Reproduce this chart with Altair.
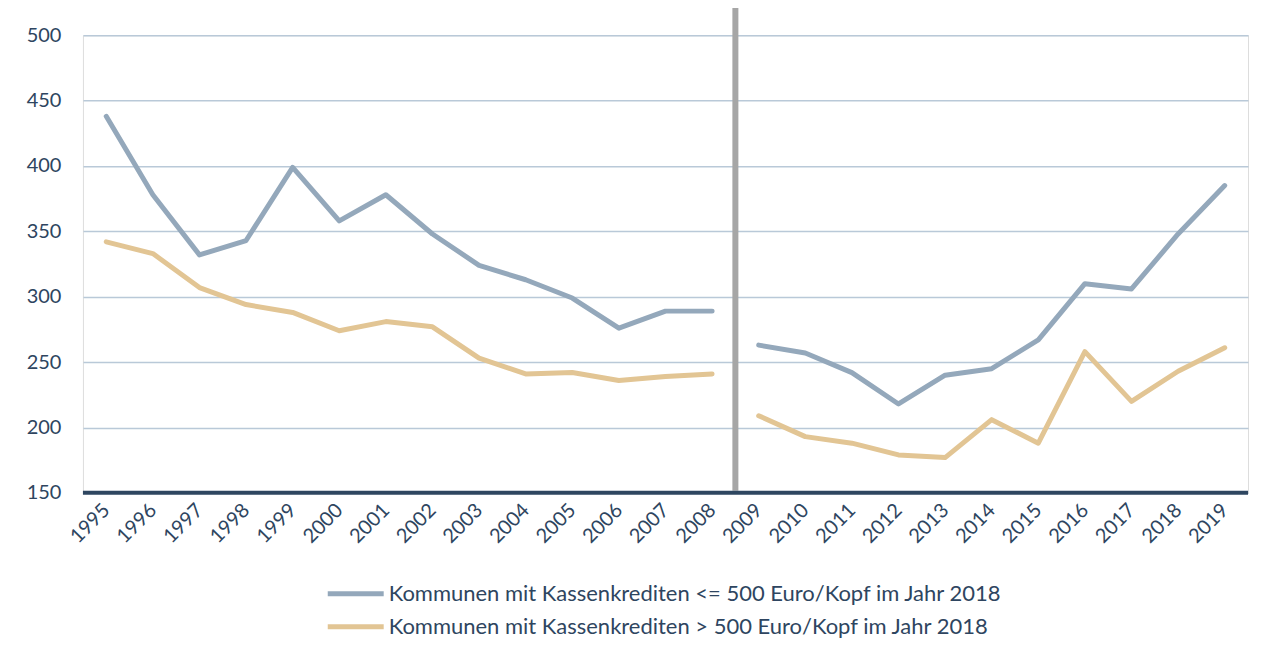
import altair as alt
import pandas as pd

years = list(range(1995, 2020))
low_debt = [438, 378, 332, 343, 399, 358, 378, 348, 324, 313, 299, 276, 289, 289,
            263, 257, 242, 218, 240, 245, 267, 310, 306, 348, 385]
high_debt = [342, 333, 307, 294, 288, 274, 281, 277, 253, 241, 242, 236, 239, 241,
             209, 193, 188, 179, 177, 206, 188, 258, 220, 243, 261]
series_names = ["Kommunen mit Kassenkrediten <= 500 Euro/Kopf im Jahr 2018",
                "Kommunen mit Kassenkrediten > 500 Euro/Kopf im Jahr 2018"]
series_colors = ["#94a8bb", "#e2c594"]
y_ticks = [150, 200, 250, 300, 350, 400, 450, 500]
break_year = 2008.5

rows = []
for name, vals in zip(series_names, [low_debt, high_debt]):
    for yr, v in zip(years, vals):
        rows.append({"Jahr": yr, "Wert": v, "Reihe": name,
                     "Abschnitt": "a" if yr <= 2008 else "b"})
df = pd.DataFrame(rows)

FONT = "Lato"
TXT = "#2e4560"

xscale = alt.Scale(domain=[1994.5, 2019.5], nice=False, zero=False)
yscale = alt.Scale(domain=[150, 500], nice=False, zero=False)

lines = alt.Chart(df).mark_line(strokeWidth=5, strokeCap="round", strokeJoin="round").encode(
    x=alt.X("Jahr:Q", scale=xscale,
            axis=alt.Axis(values=years, format="d", labelAngle=315, labelAlign="right",
                          labelBaseline="middle", labelPadding=14, ticks=False, domain=False,
                          grid=False, title=None, labelFontSize=20, labelColor=TXT,
                          labelFont=FONT, labelOverlap=False)),
    y=alt.Y("Wert:Q", scale=yscale,
            axis=alt.Axis(values=y_ticks, ticks=False, domain=False, title=None,
                          gridColor="#b9c9d8", gridWidth=1.5, labelPadding=22,
                          labelFontSize=20, labelColor=TXT, labelFont=FONT)),
    color=alt.Color("Reihe:N", scale=alt.Scale(domain=series_names, range=series_colors),
                    legend=alt.Legend(title=None, orient="none", legendX=253, legendY=539,
                                      symbolType="M-1.6,0H1.6", symbolSize=1225,
                                      symbolStrokeWidth=5, labelFontSize=22,
                                      labelFont=FONT, labelColor=TXT, rowPadding=2,
                                      labelOffset=13, labelLimit=900)),
    detail="Abschnitt:N",
)

base_df = pd.DataFrame({"y": [150]})
baseline = alt.Chart(base_df).mark_rule(color="#2e4660", strokeWidth=4).encode(
    y=alt.Y("y:Q", scale=yscale)
)

sep_df = pd.DataFrame({"x": [break_year]})
separator = alt.Chart(sep_df).mark_rule(color="#a6a6a6", strokeWidth=6).encode(
    x=alt.X("x:Q", scale=xscale), y=alt.value(-29), y2=alt.value(456)
)

border_top = alt.Chart(sep_df).mark_rule(color="#d9d9d9", strokeWidth=2).encode(
    x=alt.value(-76), x2=alt.value(1200), y=alt.value(-29)
)
border_left = alt.Chart(sep_df).mark_rule(color="#d9d9d9", strokeWidth=2).encode(
    x=alt.value(-76), y=alt.value(-29), y2=alt.value(700)
)

chart = alt.layer(border_top, border_left, lines, separator, baseline).properties(
    width=1166, height=458,
    autosize=alt.AutoSizeParams(type="none"),
    padding={"left": 75, "top": 27, "right": 20, "bottom": 160},
).configure_view(stroke=None).configure(background="white")

chart.save("out.html", embed_options={"renderer": "svg", "actions": False})
